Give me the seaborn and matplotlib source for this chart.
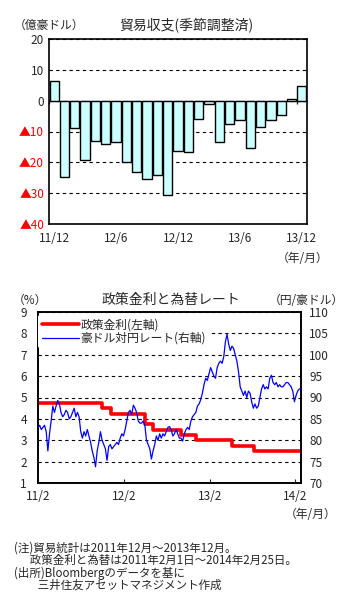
import numpy as np
import pandas as pd
import matplotlib
matplotlib.use("Agg")
import matplotlib.pyplot as plt
import seaborn as sns

# trade balance (seasonally adjusted), 100m AUD, 2011/12 - 2013/12
months = ["11/12", "12/1", "12/2", "12/3", "12/4", "12/5", "12/6", "12/7", "12/8",
          "12/9", "12/10", "12/11", "12/12", "13/1", "13/2", "13/3", "13/4", "13/5",
          "13/6", "13/7", "13/8", "13/9", "13/10", "13/11", "13/12"]
trade = [6.4, -24.6, -8.9, -19.4, -13.0, -13.9, -13.3, -20.0, -23.2, -25.4, -24.1,
         -30.5, -16.2, -16.5, -5.8, -1.1, -13.3, -7.5, -6.4, -15.5, -8.7, -6.4, -4.8,
         0.6, 4.6]
trade_ticks = ["11/12", "12/6", "12/12", "13/6", "13/12"]
trade_ylabels = ["20", "10", "0", "▲10", "▲20", "▲30", "▲40"]

# RBA cash rate (left axis)
rate_dates = pd.to_datetime(["2011-02-01", "2011-11-02", "2011-12-07", "2012-05-02",
                             "2012-06-06", "2012-10-03", "2012-12-05", "2013-05-08",
                             "2013-08-07", "2014-02-25"])
rate = [4.75, 4.50, 4.25, 3.75, 3.50, 3.25, 3.00, 2.75, 2.50, 2.50]

# AUD/JPY weekly (right axis), 2011-02-01 .. 2014-02-25
fx_dates = pd.date_range("2011-02-01", periods=161, freq="7D")
fx = [83.0, 83.5, 82.5, 83.0, 83.5, 82.0, 77.5, 81.5, 84.5, 88.0,
      86.5, 88.0, 89.3, 88.5, 86.5, 85.5, 86.0, 87.0, 86.5, 85.0,
      85.5, 86.5, 87.5, 85.5, 86.5, 85.5, 82.0, 80.5, 82.0, 81.0,
      82.5, 81.0, 79.5, 77.5, 76.0, 73.8, 77.5, 79.5, 82.0, 80.0,
      79.0, 78.0, 75.3, 78.5, 79.0, 78.0, 78.5, 79.0, 79.5, 79.0,
      80.5, 81.5, 81.0, 82.5, 84.5, 86.5, 87.0, 86.0, 88.2, 87.5,
      86.5, 84.5, 84.0, 84.0, 84.5, 83.5, 80.0, 79.0, 78.0, 75.6,
      77.5, 79.0, 81.0, 80.0, 81.5, 80.5, 81.5, 81.0, 82.0, 83.0,
      83.2, 82.5, 81.0, 81.5, 82.5, 81.5, 80.5, 80.5, 79.8, 81.5,
      82.5, 83.0, 82.5, 84.5, 85.5, 86.0, 86.5, 88.0, 88.5, 89.5,
      91.0, 93.0, 94.5, 94.0, 95.5, 97.0, 96.0, 95.0, 94.5, 97.0,
      98.0, 98.5, 98.0, 99.5, 103.0, 104.8, 102.5, 101.0, 102.0, 101.5,
      100.0, 98.5, 96.0, 92.5, 91.5, 90.5, 91.5, 90.0, 91.5, 91.0,
      89.0, 87.5, 88.5, 87.5, 88.0, 90.0, 92.0, 93.0, 92.0, 92.5,
      92.0, 94.5, 95.2, 93.5, 93.0, 93.5, 92.5, 93.0, 92.5, 92.5,
      93.0, 93.5, 93.5, 93.0, 92.5, 91.5, 89.0, 90.5, 91.5, 92.0,
      92.0]
fx_ticks = pd.to_datetime(["2011-02-01", "2012-02-01", "2013-02-01", "2014-02-01"])
fx_ticklabels = ["11/2", "12/2", "13/2", "14/2"]

notes = ["(注)貿易統計は2011年12月～2013年12月。",
         "      政策金利と為替は2011年2月1日～2014年2月25日。",
         "(出所)Bloombergのデータを基に",
         "         三井住友アセットマネジメント作成"]

sns.set_style("ticks")
plt.rcParams["font.family"] = ["Noto Sans CJK JP", "DejaVu Sans"]
plt.rcParams["font.size"] = 8.5

W, H = 361, 604
fig = plt.figure(figsize=(W / 100, H / 100), dpi=100)


def fx_(x):
    return x / W


def fy(y):
    return 1 - y / H


dash = (0, (3, 3))

# ---- top chart: trade balance
ax1 = fig.add_axes([fx_(49), fy(224), fx_(307) - fx_(49), fy(39) - fy(224)])
df_trade = pd.DataFrame({"month": months, "value": trade})
sns.barplot(data=df_trade, x="month", y="value", color="#CCFFFF", saturation=1,
            edgecolor="black", linewidth=1, width=0.9, ax=ax1, zorder=3)
ax1.set_xlim(-0.5, len(months) - 0.5)
ax1.set_ylim(-40, 20)
ax1.set_yticks([20, 10, 0, -10, -20, -30, -40])
ax1.set_yticklabels(trade_ylabels)
for lab in ax1.get_yticklabels():
    if lab.get_text().startswith("▲"):
        lab.set_color("red")
ax1.set_xticks([months.index(m) for m in trade_ticks])
ax1.set_xticklabels(trade_ticks)
ax1.tick_params(axis="both", length=0, labelsize=8.5)
ax1.tick_params(axis="x", pad=6)
ax1.set_xlabel("")
ax1.set_ylabel("")
ax1.grid(axis="y", linestyle=dash, color="black", linewidth=0.8, zorder=0)
for s in ax1.spines.values():
    s.set_visible(True)
    s.set_color("black")
    s.set_linewidth(1.2)
# zero line with category tick marks
zero = ax1.secondary_xaxis(40 / 60)
zero_pos = [-0.5, 5.5, 11.5, 17.5, 23.5]
zero.set_xticks(zero_pos, labels=[""] * len(zero_pos))
zero.tick_params(direction="in", length=2.5, width=1)
zero.spines["bottom"].set_linewidth(1.2)
zero.spines["bottom"].set_zorder(5)

fig.text(fx_(186), fy(25), "貿易収支(季節調整済)", ha="center", va="center", fontsize=10)
fig.text(fx_(49), fy(25), "（億豪ドル）", ha="center", va="center", fontsize=8.5)
fig.text(fx_(303), fy(258), "（年/月）", ha="center", va="center", fontsize=8.5)

# ---- bottom chart: policy rate and AUD/JPY
ax2 = fig.add_axes([fx_(38), fy(483), fx_(301) - fx_(38), fy(312) - fy(483)])
ax3 = ax2.twinx()
sns.lineplot(x=rate_dates, y=rate, ax=ax2, color="red", linewidth=2.6,
             drawstyle="steps-post", zorder=3)
sns.lineplot(x=fx_dates, y=fx, ax=ax3, color="blue", linewidth=0.9, zorder=4)
ax2.set_xlim(pd.Timestamp("2011-02-01"), pd.Timestamp("2014-02-25"))
ax2.set_ylim(1, 9)
ax2.set_yticks(range(1, 10))
ax3.set_ylim(70, 110)
ax3.set_yticks(range(70, 111, 5))
ax2.set_xticks(fx_ticks)
ax2.set_xticklabels(fx_ticklabels)
ax2.tick_params(axis="x", direction="in", length=3, pad=5, labelsize=8.5)
ax2.tick_params(axis="y", length=0, pad=8, labelsize=8.5)
ax3.tick_params(axis="y", length=0, pad=6, labelsize=8.5)
ax2.grid(axis="y", linestyle=dash, color="black", linewidth=0.8, zorder=0)
for a in (ax2, ax3):
    a.set_xlabel("")
    a.set_ylabel("")
    for s in a.spines.values():
        s.set_visible(True)
        s.set_color("black")
        s.set_linewidth(1.2)

h1 = ax2.get_lines()[0]
h2 = ax3.get_lines()[0]
leg = ax3.legend([h1, h2], ["政策金利(左軸)", "豪ドル対円レート(右軸)"],
                 loc="upper left", bbox_to_anchor=(0.0, 0.985), frameon=True,
                 fontsize=8.5, handlelength=3.2, handletextpad=0.1,
                 borderpad=0.3, labelspacing=0.05, borderaxespad=0)
leg.get_frame().set_facecolor("white")
leg.get_frame().set_edgecolor("none")
leg.get_frame().set_alpha(1)

fig.text(fx_(171), fy(300), "政策金利と為替レート", ha="center", va="center", fontsize=10)
fig.text(fx_(30), fy(300), "（%）", ha="center", va="center", fontsize=8.5)
fig.text(fx_(306), fy(300), "（円/豪ドル）", ha="center", va="center", fontsize=8.5)
fig.text(fx_(311), fy(514), "（年/月）", ha="center", va="center", fontsize=8.5)

for i, line in enumerate(notes):
    fig.text(fx_(14), fy(548 + i * 12.5), line, ha="left", va="center", fontsize=8.3)

fig.savefig("out.png", dpi=100, facecolor="white")
